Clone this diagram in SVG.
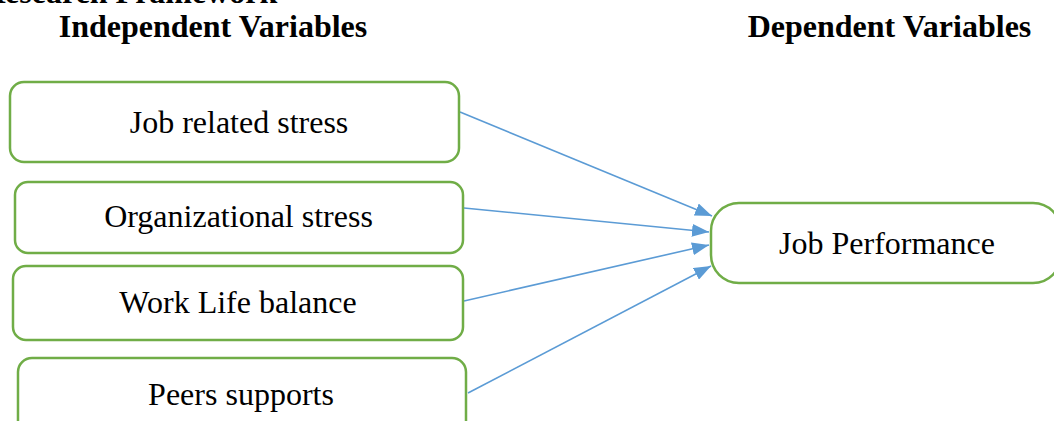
<svg xmlns="http://www.w3.org/2000/svg" width="1054" height="421" viewBox="0 0 1054 421">
  <style>
    .box { fill: #ffffff; stroke: #70AD47; stroke-width: 2.5; }
    .lbl { font-family: "Liberation Serif", "Times New Roman", serif; font-size: 32px; fill: #000000; text-anchor: middle; }
    .hdr { font-family: "Liberation Serif", "Times New Roman", serif; font-size: 32px; font-weight: bold; fill: #000000; }
    .conn { stroke: #5B9BD5; stroke-width: 1.6; fill: none; marker-end: url(#arrow); }
  </style>
  <defs>
    <marker id="arrow" viewBox="0 0 17 13" refX="17" refY="6.5" markerWidth="17" markerHeight="13" markerUnits="userSpaceOnUse" orient="auto">
      <path d="M0,0 L17,6.5 L0,13 z" fill="#5B9BD5"/>
    </marker>
  </defs>
  <rect width="1054" height="421" fill="#ffffff"/>

  <g id="titles">
    <text class="hdr" x="-18" y="3">Research Framework</text>
    <text class="hdr" x="213" y="37" text-anchor="middle">Independent Variables</text>
    <text class="hdr" x="889.5" y="37" text-anchor="middle">Dependent Variables</text>
  </g>

  <g id="connectors">
    <line class="conn" x1="460" y1="112" x2="712" y2="216"/>
    <line class="conn" x1="464" y1="208" x2="709" y2="232"/>
    <line class="conn" x1="464" y1="301" x2="709" y2="245"/>
    <line class="conn" x1="468" y1="393" x2="711" y2="266"/>
  </g>

  <g id="node-job-related-stress">
    <rect class="box" x="10" y="82" width="449" height="80" rx="14"/>
    <text class="lbl" x="239" y="133">Job related stress</text>
  </g>
  <g id="node-organizational-stress">
    <rect class="box" x="15" y="182" width="448" height="71" rx="13"/>
    <text class="lbl" x="238.5" y="227">Organizational stress</text>
  </g>
  <g id="node-work-life-balance">
    <rect class="box" x="13" y="266" width="450" height="74" rx="13"/>
    <text class="lbl" x="238" y="313">Work Life balance</text>
  </g>
  <g id="node-peers-supports">
    <rect class="box" x="18" y="358" width="448" height="90" rx="14"/>
    <text class="lbl" x="241" y="405">Peers supports</text>
  </g>
  <g id="node-job-performance">
    <rect class="box" x="711" y="203" width="350" height="80" rx="28"/>
    <text class="lbl" x="887" y="254">Job Performance</text>
  </g>
</svg>
